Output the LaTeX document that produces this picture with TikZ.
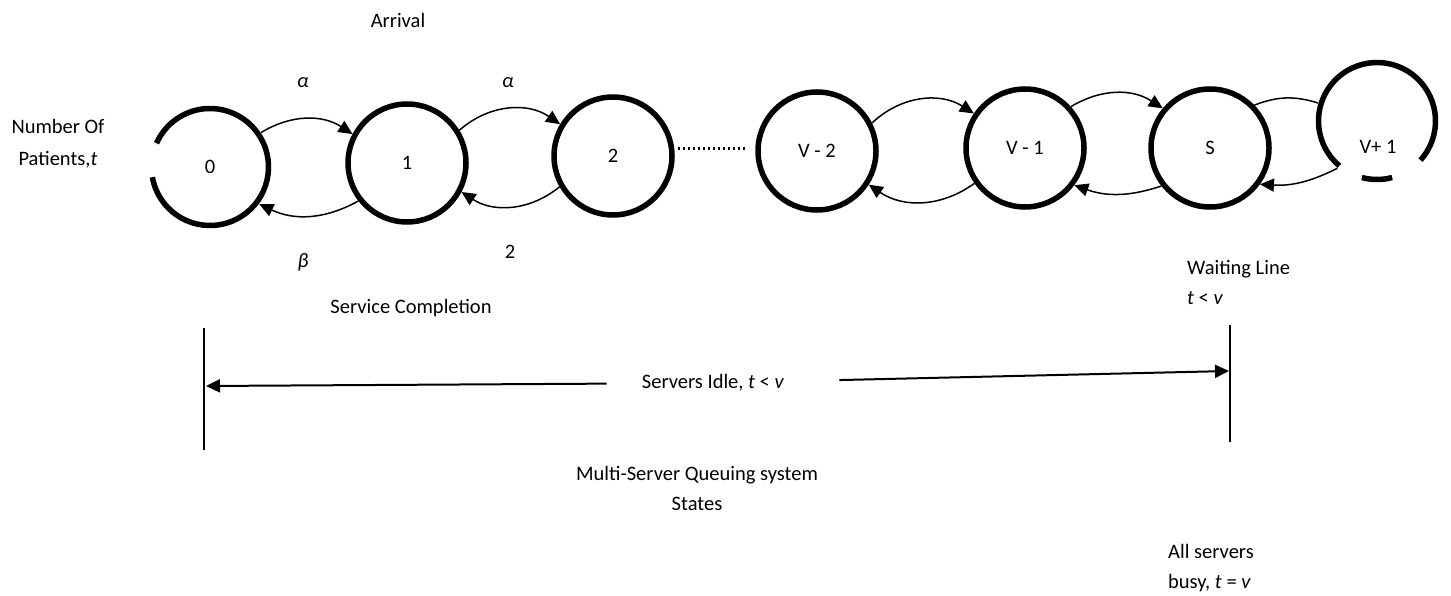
\documentclass[tikz,border=0pt]{standalone}
\usepackage{fontspec}
\setmainfont{Carlito}
\usepackage{tikz}
\usetikzlibrary{positioning,arrows.meta}

\begin{document}
\begin{tikzpicture}[x=1pt, y=1pt,
      every node/.style={font=\fontsize{20.5}{30}\selectfont, align=center, inner sep=0pt},
      state/.style={circle, draw, line width=5.5pt, minimum size=118pt},
      openstate/.style={state, draw=none},
      ring/.style={line width=5.5pt},
      arrow/.style={-{Triangle[length=14pt, width=13pt]}, line width=1.5pt},
      plain/.style={line width=1.5pt},
      bigarrow/.style={-{Triangle[length=14pt, width=13pt]}, line width=2pt},
      rule/.style={line width=1.6pt},
      dots/.style={line width=3pt, dash pattern=on 2.5pt off 2.5pt},
  ]
    \useasboundingbox (0,0) rectangle (1451,-596);

    % states of the chain
    \node[openstate] (s0) at (210,-167) {0};
    \node[state] (s1) at (407,-163) {1};
    \node[state] (s2) at (613,-156) {2};
    \node[state] (sv2) at (817,-151) {V - 2};
    \node[state] (sv1) at (1025,-148) {V - 1};
    \node[state] (ss) at (1210,-148) {S};
    \node[openstate] (svp) at (1377,-121) {};
    \node (svptxt) at (1378,-147) {V+ 1};

    % rings left open
    \draw[ring] (s0.center) ++(-170:58.5) arc[start angle=-170, end angle=156, radius=58.5];
    \draw[ring] (svp.center) ++(-42:58.5) arc[start angle=-42, end angle=230, radius=58.5];
    \draw[ring] (svp.center) ++(255:58.5) arc[start angle=255, end angle=285, radius=58.5];

    % arrivals (top) and service completions (bottom)
    \draw[arrow] (s0.34) to[bend left=32] (s1.152);
    \draw[arrow] (s1.218) to[bend left=27] (s0.-37);
    \draw[arrow] (s1.32) to[bend left=38] (s2.149);
    \draw[arrow] (s2.210) to[bend left=36] (s1.-28);
    \draw[dots, shorten <=3pt, shorten >=8pt] ([yshift=7pt]s2.east) -- ([yshift=2pt]sv2.west);
    \draw[arrow] (sv2.27) to[bend left=38] (sv1.146);
    \draw[arrow] (sv1.215) to[bend left=35] (sv2.-33);
    \draw[arrow] (sv1.42) to[bend left=32] (ss.140);
    \draw[arrow] (ss.218) to[bend left=19] (sv1.-37);
    \draw[plain] (ss.44) to[bend left=19] (svp.163);
    \draw[arrow] (svp.230) to[bend left=15] (ss.-36);

    % rates and captions
    \node (arrival) at (398,-20) {Arrival};
    \node (a1) at (303,-83) {\textit{α}};
    \node (a2) at (508,-83) {\textit{α}};
    \node (b1) at (303,-262) {\textit{β}};
    \node (b2) at (510,-252) {2};
    \node (service) at (411,-308) {Service Completion};
    \node (patients) at (58,-144) {Number Of\\[2pt]Patients,\textit{t}};
    \node[anchor=west, align=left] (waiting) at (1187,-282) {Waiting Line\\\textit{t} < \textit{v}};

    % idle / busy ranges
    \coordinate (ltop) at (204,-328);
    \coordinate (lbot) at (204,-450);
    \coordinate (lhit) at (206,-386);
    \coordinate (rtop) at (1230,-325);
    \coordinate (rbot) at (1230,-442);
    \coordinate (rhit) at (1229,-371);
    \draw[rule] (ltop) -- (lbot);
    \draw[rule] (rtop) -- (rbot);
    \node (idle) at (713,-383) {Servers Idle, \textit{t} < \textit{v}};
    \draw[bigarrow, shorten <=35pt] (idle) -- (lhit);
    \draw[bigarrow, shorten <=55pt] (idle) -- (rhit);
    \node (states) at (697,-488) {Multi-Server Queuing system\\States};
    \node[anchor=west, align=left] (busy) at (1168,-568) {All servers\\busy, \textit{t} = \textit{v}};
\end{tikzpicture}
\end{document}
